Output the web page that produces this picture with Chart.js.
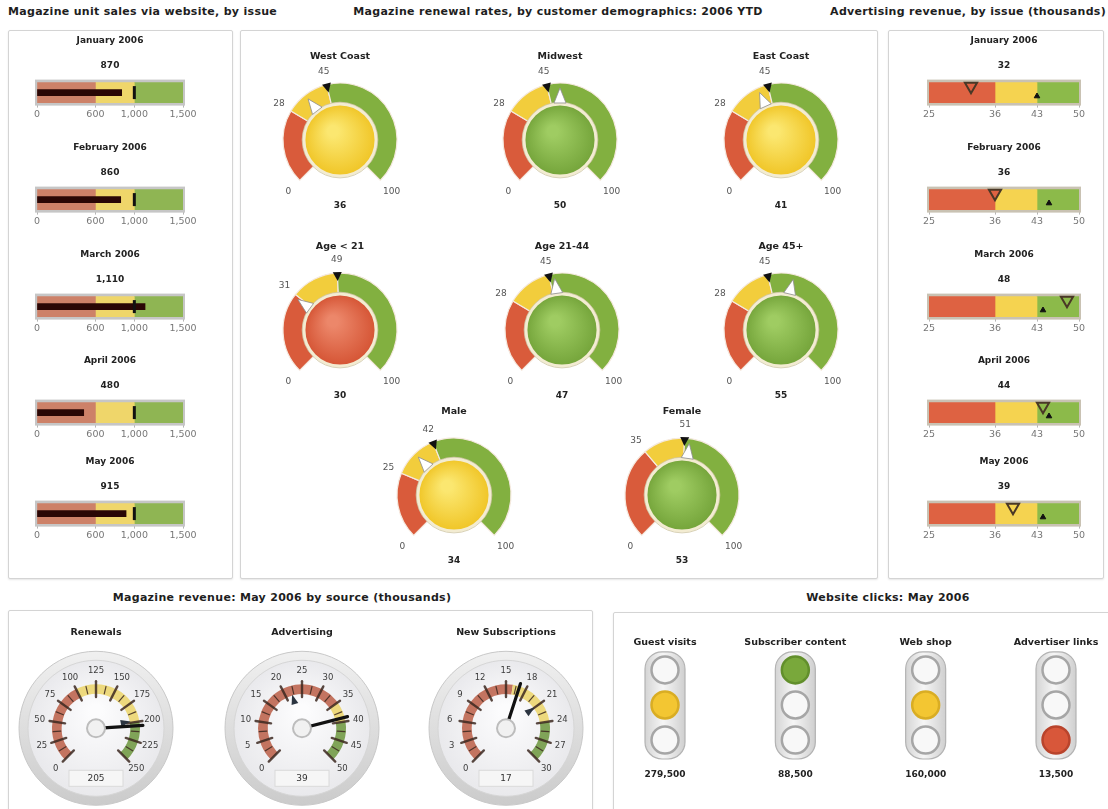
<!DOCTYPE html>
<html lang="en">
<head>
<meta charset="utf-8">
<title>Magazine dashboard</title>
<script src="https://cdn.jsdelivr.net/npm/chart.js@4.4.1/dist/chart.umd.min.js"></script>
<style>
  html, body { margin: 0; padding: 0; background: #fff; }
  #page { position: relative; width: 1108px; height: 809px; overflow: hidden; background: #fff;
          font-family: "DejaVu Sans", Verdana, sans-serif; }
  .panel { position: absolute; border: 1px solid #d4d4d4; border-radius: 2px; background: #fff;
           box-shadow: 0 1px 2px rgba(0,0,0,0.10); }
  .head { position: absolute; font-size: 11px; letter-spacing: 0.3px; font-weight: bold; color: #1e1e1e;
          white-space: nowrap; line-height: 12px; }
  canvas { position: absolute; }
</style>
</head>
<body>
<div id="page">
  <div class="panel" style="left:8px;top:30px;width:223px;height:547px"></div>
  <div class="panel" style="left:240px;top:30px;width:636px;height:547px"></div>
  <div class="panel" style="left:888px;top:30px;width:214px;height:547px"></div>
  <div class="panel" style="left:8px;top:610px;width:583px;height:220px"></div>
  <div class="panel" style="left:613px;top:612px;width:520px;height:220px"></div>

  <div class="head" style="left:8px;top:6px">Magazine unit sales via website, by issue</div>
  <div class="head" style="left:558px;top:6px;transform:translateX(-50%)">Magazine renewal rates, by customer demographics: 2006 YTD</div>
  <div class="head" style="right:2px;top:6px">Advertising revenue, by issue (thousands)</div>
  <div class="head" style="left:282px;top:592px;transform:translateX(-50%)">Magazine revenue: May 2006 by source (thousands)</div>
  <div class="head" style="left:888px;top:592px;transform:translateX(-50%)">Website clicks: May 2006</div>
</div>

<script>
// ---------- data ----------
const issues = ['January 2006', 'February 2006', 'March 2006', 'April 2006', 'May 2006'];

// unit sales via website
const unitSales = [870, 860, 1110, 480, 915];
const unitSalesTarget = [1000, 1000, 1000, 1000, 1000];
const unitSalesBands = [0, 600, 1000, 1500];      // poor | fair | good
const unitSalesTicks = [0, 600, 1000, 1500];

// advertising revenue (thousands)
const adRevenue = [32, 36, 48, 44, 39];
const adRevenueTarget = [43, 45, 44, 45, 44];
const adRevenueBands = [25, 36, 43, 50];
const adRevenueTicks = [25, 36, 43, 50];

// renewal rates by demographic (%)
const segments = ['West Coast', 'Midwest', 'East Coast', 'Age < 21', 'Age 21-44', 'Age 45+', 'Male', 'Female'];
const renewalRate = [36, 50, 41, 30, 47, 55, 34, 53];
const renewalLow = [28, 28, 28, 31, 28, 28, 25, 35];
const renewalHigh = [45, 45, 45, 49, 45, 45, 42, 51];

// revenue by source, May 2006 (thousands)
const revenueSources = ['Renewals', 'Advertising', 'New Subscriptions'];
const revenueActual = [205, 39, 17];
const revenueTarget = [198, 22, 21];
const revenueFairFrom = [100, 35, 16];
const revenueGoodFrom = [200, 40, 24];
const revenueTicks = [
  [0, 25, 50, 75, 100, 125, 150, 175, 200, 225, 250],
  [0, 5, 10, 15, 20, 25, 30, 35, 40, 45, 50],
  [0, 3, 6, 9, 12, 15, 18, 21, 24, 27, 30]
];

// website clicks, May 2006
const clickPages = ['Guest visits', 'Subscriber content', 'Web shop', 'Advertiser links'];
const clickCounts = [279500, 88500, 160000, 13500];
const clickStatus = ['yellow', 'green', 'yellow', 'red'];
const lampLevels = ['red', 'yellow', 'green'];     // bottom lamp to top lamp

// ---------- layout & style ----------
const bulletTitleY = [40, 147, 254, 360, 461];
const gaugeCenters = [[340, 140], [560, 140], [781, 140], [340, 330], [562, 330], [781, 330], [454, 495], [682, 495]];
const dialCenterX = [96, 302, 506];

const SALES_COLORS = ['#cd8168', '#efd66a', '#8fb553'];
const AD_COLORS = ['#de6242', '#f5d350', '#8cba4a'];
const RING_COLORS = ['#d95b3b', '#f2cd3c', '#82b040'];
const BALL_COLORS = [['#ec876a', '#d55434'], ['#fbe770', '#f0c526'], ['#9fcc62', '#74a43a']];
const DIAL_COLORS = ['rgba(184,88,64,0.82)', 'rgba(236,214,112,0.9)', 'rgba(112,152,66,0.88)'];
const LAMP_ON = { red: '#d8573a', yellow: '#f3c632', green: '#79a83b' };
const LAMP_RIM = { red: '#b9442c', yellow: '#d9ad24', green: '#628f2c' };

Chart.defaults.font.family = '"DejaVu Sans", Verdana, sans-serif';
Chart.defaults.animation = false;
Chart.defaults.responsive = false;
Chart.defaults.events = [];
Chart.defaults.devicePixelRatio = 1;
Chart.defaults.plugins.legend.display = false;
Chart.defaults.plugins.tooltip.enabled = false;

const fmt = v => v.toLocaleString('en-US');
const bandOf = (v, bands) => {
  for (let k = 1; k < bands.length; k++) if (v <= bands[k]) return k - 1;
  return bands.length - 2;
};

const page = document.getElementById('page');
function addCanvas(left, top, w, h) {
  const c = document.createElement('canvas');
  c.width = w; c.height = h;
  Object.assign(c.style, { left: left + 'px', top: top + 'px', width: w + 'px', height: h + 'px' });
  page.appendChild(c);
  return c;
}

// ---------- bullet charts ----------
const bulletFrame = {
  id: 'bulletFrame',
  beforeDatasetsDraw(chart, args, opts) {
    const { ctx } = chart;
    const xs = chart.scales.x;
    const yc = chart.scales.y.getPixelForValue(0);
    const l = xs.getPixelForValue(xs.min) - 2;
    const r = xs.getPixelForValue(xs.max) + 2;
    ctx.save();
    ctx.fillStyle = opts.color;
    ctx.fillRect(l, yc - 13, r - l, 26);
    ctx.restore();
  }
};

const marker = (pt, style) => Object.assign(
  { type: 'line', data: [pt], yAxisID: 'ym', showLine: false, clip: false, order: 0 }, style);

function bulletChart(cfg) {
  const { left, width, padL, padR, titleY, title, value, target, bands, ticks, colors, frameColor, mode } = cfg;
  const canvas = addCanvas(left, titleY - 9, width, 92);
  const datasets = [];
  for (let k = 0; k < bands.length - 1; k++) {
    datasets.push({ data: [[bands[k], bands[k + 1]]], backgroundColor: colors[k],
                    barThickness: 20, grouped: false, order: 5 });
  }
  if (mode === 'bar') {
    datasets.push({ data: [value], backgroundColor: '#2a0705', barThickness: 6, grouped: false, order: 2 });
    datasets.push(marker({ x: target, y: 0.5 }, {
      pointStyle: 'line', pointRotation: 90, pointRadius: 6.5,
      pointBorderWidth: 3, pointBorderColor: '#111', pointBackgroundColor: '#111' }));
  } else {
    datasets.push(marker({ x: target, y: 0.2 }, {
      pointStyle: 'triangle', pointRadius: 3.2, pointBorderWidth: 1,
      pointBackgroundColor: '#111', pointBorderColor: '#111' }));
    datasets.push(marker({ x: value, y: 1.02 }, {
      pointStyle: 'triangle', pointRotation: 180, pointRadius: 7, pointBorderWidth: 2,
      pointBackgroundColor: colors[bandOf(value, bands)], pointBorderColor: '#4a3826' }));
  }
  return new Chart(canvas, {
    type: 'bar',
    data: { labels: [title], datasets },
    options: {
      indexAxis: 'y',
      layout: { padding: { left: padL, right: padR, top: 0, bottom: 1 } },
      scales: {
        x: {
          type: 'linear', min: bands[0], max: bands[bands.length - 1],
          afterBuildTicks: ax => { ax.ticks = ticks.map(v => ({ value: v })); },
          ticks: { callback: v => fmt(v), font: { size: 9.5 }, color: '#777', padding: 1.5,
                   maxRotation: 0, autoSkip: false },
          grid: { drawOnChartArea: false, drawTicks: true, tickLength: 3, color: '#b5b5b5' },
          border: { display: false }
        },
        y: { display: false },
        ym: { type: 'linear', display: false, min: 0, max: 1 }
      },
      plugins: {
        title: { display: true, text: title, color: '#222', font: { size: 9, weight: 'bold' },
                 padding: { top: 4, bottom: 7 } },
        subtitle: { display: true, text: fmt(value), color: '#222', font: { size: 9, weight: 'bold' },
                    padding: { top: 7, bottom: 10 } },
        bulletFrame: { color: frameColor }
      }
    },
    plugins: [bulletFrame]
  });
}

issues.forEach((issue, i) => {
  bulletChart({ left: 25, width: 174, padL: 12, padR: 16, titleY: bulletTitleY[i], title: issue,
                value: unitSales[i], target: unitSalesTarget[i], bands: unitSalesBands,
                ticks: unitSalesTicks, colors: SALES_COLORS, frameColor: '#c6c6c6', mode: 'bar' });
  bulletChart({ left: 917, width: 176, padL: 12, padR: 14, titleY: bulletTitleY[i], title: issue,
                value: adRevenue[i], target: adRevenueTarget[i], bands: adRevenueBands,
                ticks: adRevenueTicks, colors: AD_COLORS, frameColor: '#c9c2b3', mode: 'marker' });
});

// ---------- renewal gauges ----------
function triangle(ctx, x, y, angle, rBase, rTip, halfW) {
  const s = Math.sin(angle), c = Math.cos(angle);
  const bx = x + rBase * s, by = y - rBase * c;
  ctx.beginPath();
  ctx.moveTo(x + rTip * s, y - rTip * c);
  ctx.lineTo(bx + halfW * c, by + halfW * s);
  ctx.lineTo(bx - halfW * c, by - halfW * s);
  ctx.closePath();
}

function gaugeDecor(i) {
  const rate = renewalRate[i], low = renewalLow[i], high = renewalHigh[i];
  const ang = v => (-135 + v * 2.7) * Math.PI / 180;
  return {
    id: 'gaugeDecor',
    afterDatasetsDraw(chart) {
      const { ctx } = chart;
      const { x, y, innerRadius: ri, outerRadius: ro } = chart.getDatasetMeta(0).data[0];
      ctx.save();
      // status ball
      const band = bandOf(rate, [0, low, high, 100]);
      const [c0, c1] = BALL_COLORS[band];
      const rb = ri - 1;
      const g = ctx.createRadialGradient(x - rb * 0.2, y - rb * 0.25, rb * 0.15, x, y, rb);
      g.addColorStop(0, c0); g.addColorStop(1, c1);
      ctx.beginPath(); ctx.arc(x, y, rb, 0, Math.PI * 2);
      ctx.fillStyle = g; ctx.fill();
      ctx.lineWidth = 3; ctx.strokeStyle = '#f3ecd2'; ctx.stroke();
      ctx.beginPath(); ctx.arc(x, y, rb + 1.8, 0, Math.PI * 2);
      ctx.lineWidth = 0.8; ctx.strokeStyle = '#cfc6a6'; ctx.stroke();
      // actual-value pointer
      triangle(ctx, x, y, ang(rate), rb + 1, rb + 16, 6);
      ctx.fillStyle = '#ffffff'; ctx.fill();
      ctx.lineWidth = 0.8; ctx.strokeStyle = '#8d8d8d'; ctx.stroke();
      // goal marker
      triangle(ctx, x, y, ang(high), ro + 1, ro - 8, 4.5);
      ctx.fillStyle = '#111'; ctx.fill();
      // scale labels
      ctx.font = '9px "DejaVu Sans"';
      ctx.fillStyle = '#555';
      ctx.textAlign = 'center'; ctx.textBaseline = 'middle';
      [[0, ro + 16], [100, ro + 16], [low, ro + 14], [high, ro + 13]].forEach(([v, r]) => {
        ctx.fillText(String(v), x + r * Math.sin(ang(v)), y - r * Math.cos(ang(v)));
      });
      // value
      ctx.font = 'bold 9px "DejaVu Sans"';
      ctx.fillStyle = '#222';
      ctx.fillText(String(rate), x, y + 66);
      ctx.restore();
    }
  };
}

segments.forEach((name, i) => {
  const [cx, cy] = gaugeCenters[i];
  const canvas = addCanvas(cx - 100, cy - 92, 200, 170);
  new Chart(canvas, {
    type: 'doughnut',
    data: {
      labels: ['Low', 'Medium', 'High'],
      datasets: [{
        data: [renewalLow[i], renewalHigh[i] - renewalLow[i], 100 - renewalHigh[i]],
        backgroundColor: RING_COLORS, borderColor: '#f5e9df', borderWidth: 1.2
      }]
    },
    options: {
      rotation: -135, circumference: 270, cutout: '65%', radius: 57,
      layout: { padding: { bottom: 19 } },
      plugins: {
        title: { display: true, text: name, color: '#222', font: { size: 9.5, weight: 'bold' },
                 padding: { top: 3, bottom: 2 } }
      }
    },
    plugins: [gaugeDecor(i)]
  });
});

// ---------- revenue dials ----------
function dialDecor(i) {
  const ticks = revenueTicks[i];
  const max = ticks[ticks.length - 1];
  const ang = v => (-135 + v / max * 270) * Math.PI / 180;
  return {
    id: 'dialDecor',
    beforeDatasetsDraw(chart) {
      const { ctx } = chart;
      const { x, y } = chart.getDatasetMeta(0).data[0];
      ctx.save();
      let g = ctx.createLinearGradient(0, y - 77, 0, y + 77);
      g.addColorStop(0, '#f0f0f0'); g.addColorStop(1, '#cbcbcb');
      ctx.beginPath(); ctx.arc(x, y, 77, 0, Math.PI * 2);
      ctx.fillStyle = g; ctx.fill();
      ctx.lineWidth = 1; ctx.strokeStyle = '#c8c8c8'; ctx.stroke();
      g = ctx.createRadialGradient(x, y - 18, 6, x, y, 68);
      g.addColorStop(0, '#fcfcfd'); g.addColorStop(1, '#e9e9ec');
      ctx.beginPath(); ctx.arc(x, y, 68, 0, Math.PI * 2);
      ctx.fillStyle = g; ctx.fill();
      ctx.strokeStyle = '#d6d6d6'; ctx.stroke();
      ctx.restore();
    },
    afterDatasetsDraw(chart) {
      const { ctx } = chart;
      const { x, y, innerRadius: ri, outerRadius: ro } = chart.getDatasetMeta(0).data[0];
      const at = (v, r) => [x + r * Math.sin(ang(v)), y - r * Math.cos(ang(v))];
      ctx.save();
      ctx.lineCap = 'round';
      // tick marks across the band
      ticks.forEach((v, k) => {
        const drawTick = (val, r0, r1, w) => {
          const [x0, y0] = at(val, r0), [x1, y1] = at(val, r1);
          ctx.beginPath(); ctx.moveTo(x0, y0); ctx.lineTo(x1, y1);
          ctx.lineWidth = w; ctx.strokeStyle = 'rgba(60,40,32,0.85)'; ctx.stroke();
        };
        drawTick(v, ri - 3, ro + 3, 2.4);
        if (k < ticks.length - 1) drawTick((v + ticks[k + 1]) / 2, ri + 1, ro - 1, 1.2);
      });
      // scale labels
      ctx.font = '8.5px "DejaVu Sans"';
      ctx.fillStyle = '#3c3c3c';
      ctx.textAlign = 'center'; ctx.textBaseline = 'middle';
      ticks.forEach(v => { const [tx, ty] = at(v, 57); ctx.fillText(String(v), tx, ty); });
      // target marker
      triangle(ctx, x, y, ang(revenueTarget[i]), ri - 9, ri + 1, 3.5);
      ctx.fillStyle = '#2b3440'; ctx.fill();
      // needle
      const [nx0, ny0] = at(revenueActual[i], -4), [nx1, ny1] = at(revenueActual[i], ro + 3);
      ctx.beginPath(); ctx.moveTo(nx0, ny0); ctx.lineTo(nx1, ny1);
      ctx.lineWidth = 3.2; ctx.strokeStyle = '#111'; ctx.stroke();
      // hub
      ctx.beginPath(); ctx.arc(x, y, 9, 0, Math.PI * 2);
      ctx.fillStyle = '#f1f1f1'; ctx.fill();
      ctx.lineWidth = 2; ctx.strokeStyle = '#bdbdbd'; ctx.stroke();
      // value box
      ctx.fillStyle = '#f6f6f6';
      ctx.fillRect(x - 27, y + 42, 54, 16);
      ctx.lineWidth = 1; ctx.strokeStyle = '#dadada';
      ctx.strokeRect(x - 27, y + 42, 54, 16);
      ctx.font = '9px "DejaVu Sans"';
      ctx.fillStyle = '#333';
      ctx.fillText(fmt(revenueActual[i]), x, y + 50);
      ctx.restore();
    }
  };
}

revenueSources.forEach((name, i) => {
  const cx = dialCenterX[i];
  const max = revenueTicks[i][revenueTicks[i].length - 1];
  const canvas = addCanvas(cx - 95, 625, 190, 184);
  new Chart(canvas, {
    type: 'doughnut',
    data: {
      labels: ['Below plan', 'Near plan', 'On plan'],
      datasets: [{
        data: [revenueFairFrom[i], revenueGoodFrom[i] - revenueFairFrom[i], max - revenueGoodFrom[i]],
        backgroundColor: DIAL_COLORS, borderWidth: 0
      }]
    },
    options: {
      rotation: -135, circumference: 270, cutout: '78%', radius: 44,
      layout: { padding: { bottom: 10 } },
      plugins: {
        title: { display: true, text: name, color: '#222', font: { size: 9.5, weight: 'bold' },
                 padding: { top: 2.3, bottom: 6 } }
      }
    },
    plugins: [dialDecor(i)]
  });
});

// ---------- website click traffic lights ----------
const lampHousing = {
  id: 'lampHousing',
  beforeDatasetsDraw(chart) {
    const { ctx } = chart;
    const xs = chart.scales.x, ys = chart.scales.y;
    const top = ys.getPixelForValue(lampLevels.length - 1) - 18;
    const bottom = ys.getPixelForValue(0) + 19;
    ctx.save();
    clickPages.forEach((p, i) => {
      const px = xs.getPixelForValue(i);
      const g = ctx.createLinearGradient(px - 20, 0, px + 20, 0);
      g.addColorStop(0, '#d4d4d4'); g.addColorStop(0.45, '#f6f6f6'); g.addColorStop(1, '#cfcfcf');
      ctx.beginPath();
      ctx.roundRect(px - 20, top, 40, bottom - top, 17);
      ctx.fillStyle = g; ctx.fill();
      ctx.lineWidth = 1.2; ctx.strokeStyle = '#b3b3b3'; ctx.stroke();
    });
    ctx.restore();
  }
};

{
  const canvas = addCanvas(613, 622, 495, 187);
  new Chart(canvas, {
    type: 'line',
    data: {
      labels: clickPages,
      datasets: lampLevels.map((lvl, k) => ({
        data: clickPages.map(() => k),
        showLine: false, clip: false,
        pointRadius: 13.5, pointBorderWidth: 2.5,
        pointBackgroundColor: clickStatus.map(s => s === lvl ? LAMP_ON[lvl] : '#f8f8f8'),
        pointBorderColor: clickStatus.map(s => s === lvl ? LAMP_RIM[lvl] : '#a6a6a6')
      }))
    },
    options: {
      layout: { padding: { left: 52, right: 52, top: 11, bottom: 16.7 } },
      scales: {
        x: {
          type: 'category', position: 'top', offset: false,
          grid: { display: false, drawTicks: false }, border: { display: false },
          ticks: { font: { size: 9.5, weight: 'bold' }, color: '#222', padding: 4, maxRotation: 0, autoSkip: false }
        },
        counts: {
          type: 'category', axis: 'x', position: 'bottom', offset: false,
          labels: clickCounts.map(fmt),
          grid: { display: false, drawTicks: false }, border: { display: false },
          ticks: { font: { size: 9, weight: 'bold' }, color: '#222', padding: 12, maxRotation: 0, autoSkip: false }
        },
        y: { display: false, min: -0.5, max: 2.5 }
      }
    },
    plugins: [lampHousing]
  });
}
</script>
</body>
</html>
